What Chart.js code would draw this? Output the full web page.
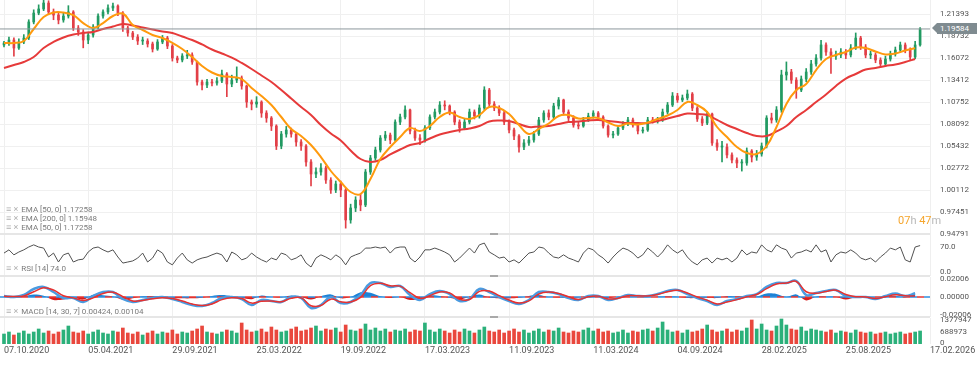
<!DOCTYPE html>
<html>
<head>
<meta charset="utf-8">
<title>EUR/USD daily</title>
<script src="https://cdn.jsdelivr.net/npm/chart.js@4.4.1/dist/chart.umd.min.js"></script>
<style>
  html, body { margin: 0; padding: 0; background: #fff; }
  #wrap { position: relative; width: 977px; height: 368px; overflow: hidden; font-family: Roboto, Arial, sans-serif; }
  #wrap canvas { position: absolute; left: 0; }
  .tag { position: absolute; left: 6px; height: 10px; line-height: 10px; font-size: 8px; color: #7b7b7b; white-space: nowrap; }
  .tag b { font-weight: normal; color: #b0b0b0; margin-right: 1px; font-size: 9px; }
  .sep { position: absolute; left: 0; width: 930px; height: 2px; background: #e6e6e6; }
  .grip { position: absolute; left: 490px; width: 8px; height: 2px; background: #a9a9a9; }
  #last { position: absolute; left: 937px; top: 23px; width: 40px; height: 11px; line-height: 11px; background: #7f8b90; color: #fff; font-size: 8px; padding-left: 3px; box-sizing: border-box; }
  #last::before { content: ''; position: absolute; left: -5px; top: 0; border-style: solid; border-width: 5.5px 5px 5.5px 0; border-color: transparent #7f8b90 transparent transparent; }
  #timer { position: absolute; left: 898px; top: 214px; font-size: 11px; line-height: 13px; color: #f5a52c; white-space: nowrap; }
  #timer span { color: #b8b8b8; }
</style>
</head>
<body>
<div id="wrap">
  <canvas id="cPrice" width="977" height="240" style="top:0"></canvas>
  <canvas id="cRsi" width="977" height="40" style="top:236px"></canvas>
  <canvas id="cMacd" width="977" height="44" style="top:273px"></canvas>
  <canvas id="cVol" width="977" height="54" style="top:314px"></canvas>

  <div class="sep" style="top:233px"></div>
  <div class="sep" style="top:275px"></div>
  <div class="sep" style="top:316px"></div>
  <div class="grip" style="top:233px"></div>
  <div class="grip" style="top:275px"></div>
  <div class="grip" style="top:316px"></div>

  <div class="tag" style="top:204px"><b>≡ ×</b> EMA [50, 0] 1.17258</div>
  <div class="tag" style="top:213px"><b>≡ ×</b> EMA [200, 0] 1.15948</div>
  <div class="tag" style="top:222px"><b>≡ ×</b> EMA [50, 0] 1.17258</div>
  <div class="tag" style="top:263px"><b>≡ ×</b> RSI [14] 74.0</div>
  <div class="tag" style="top:306px"><b>≡ ×</b> MACD [14, 30, 7] 0.00424, 0.00104</div>

  <div id="timer">07<span>h</span> 47<span>m</span></div>
  <div id="last">1.19584</div>
</div>
<script>
// bar index axis: one candle per slot, a date label every 17 slots
const X_MIN = -0.808, X_MAX = 187, TICK_EVERY = 17, LINE_STEP = 2;
const PRICE_MIN = 0.94551, PRICE_MAX = 1.23086;

const dateLabels = ['07.10.2020', '05.04.2021', '29.09.2021', '25.03.2022', '19.09.2022', '17.03.2023',
  '11.09.2023', '11.03.2024', '04.09.2024', '28.02.2025', '25.08.2025', '17.02.2026'];
const priceTicks = [1.21393, 1.18732, 1.16072, 1.13412, 1.10752, 1.08092, 1.05432, 1.02772, 1.00112, 0.97451, 0.94791];
const rsiTicks = [0, 70];
const macdTicks = [-0.02006, 0, 0.02006];
const volumeTicks = [0, 688973, 1377947];

const firstOpen = 1.1765;
const close = [
  1.1789,1.1825,1.1728,1.1801,1.1849,1.2043,1.2151,1.2200,1.2272,1.2164,
  1.2127,1.2067,1.2115,1.2164,1.1970,1.1922,1.1825,1.1885,1.1982,1.2115,
  1.2164,1.2212,1.2236,1.2151,1.1970,1.1910,1.1861,1.1813,1.1813,1.1777,
  1.1716,1.1801,1.1849,1.1752,1.1607,1.1583,1.1632,1.1644,1.1559,1.1317,
  1.1281,1.1317,1.1305,1.1329,1.1414,1.1293,1.1341,1.1366,1.1269,1.1075,
  1.1051,1.1075,1.0942,1.0882,1.0785,1.0543,1.0688,1.0737,1.0688,1.0592,
  1.0543,1.0350,1.0205,1.0229,1.0277,1.0132,1.0011,1.0084,1.0011,0.9649,
  0.9794,0.9890,0.9830,1.0229,1.0398,1.0495,1.0640,1.0676,1.0616,1.0833,
  1.0894,1.0979,1.0725,1.0640,1.0616,1.0761,1.0894,1.0954,1.1039,1.1027,
  1.0954,1.0833,1.0761,1.0833,1.0954,1.0906,1.1003,1.1220,1.1051,1.1003,
  1.0942,1.0833,1.0737,1.0664,1.0531,1.0580,1.0616,1.0688,1.0858,1.0942,
  1.0894,1.1027,1.1100,1.0954,1.0882,1.0797,1.0785,1.0858,1.0906,1.0942,
  1.0894,1.0785,1.0676,1.0688,1.0761,1.0809,1.0858,1.0797,1.0725,1.0737,
  1.0858,1.0846,1.0858,1.0954,1.1039,1.1148,1.1100,1.1124,1.1172,1.1003,
  1.0870,1.0821,1.0930,1.0580,1.0531,1.0531,1.0435,1.0374,1.0338,1.0338,
  1.0483,1.0410,1.0447,1.0543,1.0882,1.0858,1.0979,1.1402,1.1438,1.1341,
  1.1220,1.1353,1.1438,1.1535,1.1607,1.1765,1.1680,1.1632,1.1644,1.1680,
  1.1644,1.1728,1.1849,1.1740,1.1644,1.1644,1.1583,1.1535,1.1595,1.1656,
  1.1704,1.1765,1.1704,1.1619,1.1765,1.19584
];
const high = [
  1.181,1.186,1.185,1.184,1.189,1.207,1.219,1.225,1.234,1.230,
  1.220,1.216,1.215,1.224,1.218,1.200,1.195,1.192,1.201,1.214,
  1.219,1.225,1.227,1.225,1.217,1.199,1.193,1.189,1.186,1.184,
  1.180,1.183,1.188,1.187,1.177,1.163,1.166,1.170,1.167,1.157,
  1.134,1.135,1.135,1.137,1.146,1.143,1.140,1.150,1.139,1.128,
  1.110,1.114,1.109,1.097,1.090,1.080,1.072,1.078,1.076,1.071,
  1.062,1.056,1.038,1.028,1.033,1.030,1.016,1.012,1.012,1.003,
  0.984,0.993,0.996,1.026,1.043,1.053,1.067,1.072,1.070,1.086,
  1.093,1.103,1.099,1.076,1.068,1.079,1.092,1.099,1.108,1.109,
  1.104,1.097,1.086,1.087,1.099,1.098,1.104,1.126,1.124,1.108,
  1.103,1.097,1.086,1.076,1.068,1.062,1.066,1.072,1.089,1.097,
  1.098,1.106,1.113,1.111,1.098,1.091,1.083,1.089,1.094,1.097,
  1.096,1.091,1.080,1.072,1.079,1.084,1.089,1.088,1.082,1.077,
  1.089,1.089,1.089,1.099,1.107,1.119,1.118,1.116,1.122,1.119,
  1.102,1.090,1.096,1.094,1.062,1.060,1.057,1.046,1.040,1.038,
  1.052,1.050,1.049,1.058,1.091,1.094,1.102,1.146,1.156,1.147,
  1.137,1.139,1.148,1.158,1.165,1.182,1.179,1.172,1.169,1.172,
  1.171,1.177,1.191,1.187,1.177,1.169,1.167,1.161,1.163,1.169,
  1.174,1.180,1.179,1.173,1.181,1.1975
];
const low = [
  1.174,1.176,1.163,1.171,1.178,1.183,1.202,1.213,1.218,1.213,
  1.207,1.202,1.204,1.209,1.194,1.188,1.173,1.178,1.186,1.196,
  1.209,1.214,1.218,1.212,1.193,1.187,1.183,1.177,1.177,1.174,
  1.168,1.170,1.178,1.172,1.157,1.155,1.156,1.160,1.153,1.128,
  1.122,1.125,1.127,1.128,1.131,1.114,1.126,1.131,1.123,1.101,
  1.098,1.101,1.089,1.083,1.073,1.050,1.051,1.065,1.065,1.054,
  1.049,1.030,1.006,1.016,1.019,1.009,0.997,0.998,0.993,0.955,
  0.961,0.975,0.976,0.981,1.020,1.037,1.047,1.061,1.057,1.060,
  1.080,1.087,1.069,1.061,1.056,1.059,1.074,1.087,1.093,1.098,
  1.092,1.080,1.071,1.074,1.081,1.087,1.088,1.098,1.101,1.097,
  1.091,1.080,1.070,1.062,1.047,1.050,1.055,1.059,1.067,1.083,
  1.086,1.087,1.099,1.092,1.085,1.077,1.075,1.077,1.084,1.088,
  1.086,1.076,1.065,1.064,1.067,1.074,1.079,1.077,1.069,1.070,
  1.072,1.082,1.082,1.084,1.093,1.102,1.107,1.108,1.110,1.097,
  1.084,1.079,1.080,1.055,1.049,1.035,1.040,1.034,1.028,1.024,
  1.031,1.035,1.037,1.042,1.052,1.082,1.083,1.095,1.134,1.130,
  1.112,1.120,1.132,1.141,1.151,1.158,1.164,1.142,1.159,1.161,
  1.160,1.162,1.171,1.171,1.161,1.160,1.155,1.150,1.151,1.157,
  1.163,1.168,1.167,1.158,1.160,1.175
];
// EMA lines, one point every 2 candles
const ema50 = [
  1.1789,1.1789,1.1813,1.1958,1.2103,1.2157,1.2157,1.2127,1.2030,1.1970,
  1.2030,1.2115,1.2145,1.2006,1.1946,1.1885,1.1849,1.1789,1.1716,1.1619,
  1.1511,1.1432,1.1390,1.1378,1.1353,1.1245,1.1148,1.1039,1.0894,1.0749,
  1.0664,1.0555,1.0410,1.0241,1.0108,0.9987,0.9963,1.0144,1.0386,1.0531,
  1.0652,1.0761,1.0725,1.0785,1.0894,1.0948,1.0894,1.0870,1.0918,1.1015,
  1.1003,1.0930,1.0797,1.0688,1.0749,1.0815,1.0906,1.0918,1.0876,1.0882,
  1.0882,1.0827,1.0785,1.0815,1.0803,1.0827,1.0870,1.0912,1.0979,1.1075,
  1.1039,1.0954,1.0773,1.0652,1.0531,1.0459,1.0447,1.0543,1.0773,1.1051,
  1.1220,1.1293,1.1462,1.1595,1.1644,1.1680,1.1734,1.1728,1.1686,1.1650,
  1.1662,1.1698,1.17258
];
const ema200 = [
  1.1487,1.1523,1.1559,1.1619,1.1728,1.1801,1.1855,1.1891,1.1910,1.1922,
  1.1958,1.1988,1.2018,1.2000,1.1976,1.1952,1.1928,1.1910,1.1867,1.1825,
  1.1771,1.1710,1.1662,1.1613,1.1547,1.1474,1.1396,1.1317,1.1220,1.1118,
  1.1015,1.0918,1.0797,1.0694,1.0610,1.0489,1.0386,1.0350,1.0374,1.0441,
  1.0501,1.0555,1.0580,1.0634,1.0682,1.0713,1.0737,1.0755,1.0785,1.0840,
  1.0852,1.0846,1.0809,1.0773,1.0779,1.0785,1.0809,1.0833,1.0840,1.0852,
  1.0858,1.0846,1.0833,1.0821,1.0821,1.0821,1.0846,1.0876,1.0906,1.0936,
  1.0930,1.0918,1.0858,1.0797,1.0749,1.0700,1.0664,1.0664,1.0719,1.0785,
  1.0894,1.0979,1.1075,1.1166,1.1269,1.1359,1.1414,1.1468,1.1487,1.1511,
  1.1529,1.1559,1.15948
];
const rsi = [
  53,62,48,56,62,70,76,70,67,42, 53,28,48,53,28,34,36,56,67,70,
  62,56,62,42,25,28,31,39,53,28, 39,62,53,28,20,39,53,34,25,34,
  39,42,48,53,48,28,56,48,34,39, 53,42,34,28,39,34,53,48,34,39,
  48,25,14,39,48,42,34,48,39,20, 42,48,53,67,67,70,67,70,53,67,
  70,70,39,28,42,62,62,67,62,56, 48,28,39,53,67,53,76,81,56,48,
  39,42,28,34,25,39,53,56,70,67, 53,42,39,48,39,34,28,53,67,62,
  48,39,25,42,56,67,62,53,39,48, 67,56,42,56,76,62,53,62,42,28,
  20,34,39,25,39,34,39,28,39,62, 48,56,53,76,62,56,76,67,62,39,
  53,56,62,56,76,56,62,28,48,56, 53,62,53,39,34,39,28,42,53,67,
  62,70,34,28,70,74
];
// MACD, signal and histogram, one point every 2 candles
const macd = [
  0.0011,0.0000,0.0023,0.0092,0.0115,0.0057,-0.0011,-0.0011,-0.0057,0.0011,
  0.0057,0.0057,-0.0023,-0.0057,-0.0034,-0.0011,0.0000,-0.0023,-0.0057,-0.0092,
  -0.0103,-0.0069,-0.0011,0.0000,-0.0023,-0.0092,-0.0034,-0.0046,-0.0057,0.0000,
  -0.0011,-0.0126,-0.0092,0.0000,-0.0069,-0.0057,0.0023,0.0160,0.0160,0.0115,
  0.0126,0.0023,-0.0034,0.0034,0.0069,0.0034,-0.0046,-0.0023,0.0092,0.0057,
  0.0000,-0.0046,-0.0080,-0.0034,0.0057,0.0057,0.0034,-0.0011,-0.0034,0.0011,
  0.0011,-0.0034,-0.0011,0.0023,0.0011,0.0011,0.0034,0.0069,0.0080,0.0034,
  -0.0011,-0.0046,-0.0092,-0.0046,-0.0023,0.0011,0.0034,0.0115,0.0160,0.0160,
  0.0183,0.0023,0.0046,0.0069,0.0080,0.0011,0.0000,0.0000,-0.0023,0.0011,
  0.0040,0.0011,0.00424
];
const signal = [
  0.0008,0.0005,0.0012,0.0060,0.0105,0.0080,0.0015,-0.0010,-0.0040,-0.0010,
  0.0040,0.0055,0.0005,-0.0045,-0.0040,-0.0020,-0.0008,-0.0018,-0.0045,-0.0080,
  -0.0098,-0.0080,-0.0030,-0.0008,-0.0018,-0.0070,-0.0050,-0.0045,-0.0055,-0.0015,
  -0.0010,-0.0100,-0.0098,-0.0025,-0.0055,-0.0058,-0.0005,0.0130,0.0158,0.0128,
  0.0125,0.0050,-0.0015,0.0015,0.0058,0.0045,-0.0025,-0.0028,0.0065,0.0068,
  0.0015,-0.0035,-0.0070,-0.0045,0.0035,0.0057,0.0040,0.0002,-0.0028,0.0002,
  0.0010,-0.0022,-0.0015,0.0015,0.0013,0.0011,0.0028,0.0060,0.0077,0.0045,
  0.0000,-0.0036,-0.0080,-0.0058,-0.0030,0.0002,0.0028,0.0095,0.0148,0.0160,
  0.0178,0.0060,0.0042,0.0063,0.0078,0.0028,0.0004,0.0000,-0.0018,0.0003,
  0.0025,0.0015,0.00104
];
const hist = [
  0.0005,-0.0005,0.0010,0.0030,0.0015,-0.0035,-0.0030,-0.0010,-0.0030,0.0025,
  0.0020,0.0005,-0.0030,-0.0015,0.0008,0.0012,0.0008,-0.0008,-0.0015,-0.0015,
  -0.0008,0.0012,0.0022,0.0010,-0.0008,-0.0025,0.0018,0.0000,-0.0005,0.0018,
  0.0000,-0.0030,0.0008,0.0030,-0.0015,0.0000,0.0055,0.0050,0.0008,-0.0012,
  0.0000,-0.0035,-0.0022,0.0018,0.0012,-0.0010,-0.0030,0.0002,0.0028,-0.0005,
  -0.0015,-0.0018,-0.0010,0.0012,0.0022,0.0000,-0.0006,-0.0012,-0.0006,0.0008,
  0.0002,-0.0012,0.0004,0.0008,0.0000,0.0000,0.0006,0.0010,0.0004,-0.0012,
  -0.0012,-0.0010,-0.0012,0.0012,0.0008,0.0010,0.0006,0.0040,0.0035,0.0000,
  0.0030,-0.0040,0.0004,0.0006,0.0002,-0.0030,-0.0004,0.0000,-0.0005,0.0008,
  0.0015,-0.0004,0.0045
];
// volume in thousands
const volume = [
  599,719,539,659,779,599,719,899,659,779, 599,719,839,1078,719,659,779,599,719,839,
  659,599,779,719,958,659,599,719,539,659, 779,599,719,659,839,599,719,659,779,899,
  1078,719,659,599,719,839,779,659,1258,839, 719,779,899,719,1018,839,719,779,899,1018,
  779,839,958,1078,779,899,839,958,719,1138, 839,779,899,1198,839,958,779,899,719,839,
  779,899,719,839,779,1258,839,719,899,779, 659,839,719,899,779,659,839,1018,779,719,
  839,659,779,899,719,839,659,779,899,719, 839,779,958,719,659,779,719,839,958,779,
  899,719,779,659,719,839,659,779,719,839, 899,779,958,1318,839,719,779,659,839,719,
  779,899,1138,839,719,779,899,719,839,779, 958,1438,899,1198,839,779,1078,1498,1138,899,
  839,1018,779,899,839,779,719,839,659,779, 719,659,839,719,659,719,599,659,719,599,
  659,719,599,659,719,779
];

const UP = '#229a62', DOWN = '#e23f47';
const VOL_UP = '#2bb07a', VOL_DOWN = '#e9473d';
const open = [firstOpen].concat(close.slice(0, -1));
const rising = close.map((c, i) => c >= open[i]);
const lastPrice = close[close.length - 1];
const lineAt = (arr, step) => arr.map((v, k) => ({ x: k * step, y: v }));
const flat = v => [{ x: X_MIN, y: v }, { x: X_MAX, y: v }];
const FONT = { family: 'Roboto', size: 8 };

function xAxis(showDates) {
  return {
    type: 'linear', min: X_MIN, max: X_MAX, offset: false,
    grid: { color: '#efefef', offset: false, drawTicks: false },
    border: { display: false },
    ticks: {
      display: showDates, align: 'start', padding: 1, maxRotation: 0, minRotation: 0, autoSkip: false,
      color: '#555', font: { family: 'Roboto', size: 9 },
      callback: (v, i) => dateLabels[i]
    },
    afterBuildTicks: s => { s.ticks = dateLabels.map((d, k) => ({ value: k * TICK_EVERY })); },
    afterFit: s => { s.height = showDates ? 24 : 0; s.paddingLeft = 0; s.paddingRight = 0; }
  };
}
function yAxis(min, max, ticks, fmt, grid, labelOffset) {
  return {
    position: 'right', min, max,
    grid: { display: grid, color: '#f0f0f0', drawTicks: false },
    border: { display: false },
    ticks: { padding: 10, color: '#555', font: FONT, autoSkip: false, labelOffset: labelOffset || 0, callback: fmt },
    afterBuildTicks: s => { s.ticks = ticks.map(v => ({ value: v })); },
    afterFit: s => { s.width = 47; s.paddingTop = 0; s.paddingBottom = 0; }
  };
}
function build(id, datasets, y, showDates, pad) {
  return new Chart(document.getElementById(id), {
    type: 'bar',
    data: { datasets },
    options: {
      responsive: false, animation: false, events: [],
      layout: { padding: pad || 0 },
      plugins: { legend: { display: false }, tooltip: { enabled: false } },
      scales: { x: xAxis(showDates), y }
    }
  });
}

build('cPrice', [
  { type: 'line', data: flat(lastPrice), borderColor: '#8c979c', borderWidth: 1, pointRadius: 0, order: 0 },
  { type: 'line', data: lineAt(ema50, LINE_STEP), borderColor: '#ff9a0d', borderWidth: 2, pointRadius: 0, tension: 0.4, order: 1 },
  { type: 'line', data: lineAt(ema200, LINE_STEP), borderColor: '#e63a3a', borderWidth: 2, pointRadius: 0, tension: 0.4, order: 2 },
  { data: close.map((c, i) => ({ x: i, y: [open[i], c] })), backgroundColor: rising.map(r => r ? UP : DOWN),
    barThickness: 2, minBarLength: 1, grouped: false, order: 3 },
  { data: close.map((c, i) => ({ x: i, y: [low[i], high[i]] })), backgroundColor: rising.map(r => r ? UP : DOWN),
    barThickness: 1, grouped: false, order: 4 }
], yAxis(PRICE_MIN, PRICE_MAX, priceTicks, v => v.toFixed(5), true), false, { bottom: 4 });

build('cRsi', [
  { type: 'line', data: rsi.map((v, i) => ({ x: i, y: v })), borderColor: '#505050', borderWidth: 1, pointRadius: 0 }
], yAxis(-11.2, 100.8, rsiTicks, v => v.toFixed(1), false), false);

build('cMacd', [
  { type: 'line', data: lineAt(signal, LINE_STEP), borderColor: '#e8312f', borderWidth: 1.5, pointRadius: 0, tension: 0.4, order: 0 },
  { type: 'line', data: lineAt(macd, LINE_STEP), borderColor: '#4a9be0', borderWidth: 2.5, pointRadius: 0, tension: 0.4, order: 1 },
  { type: 'line', data: flat(0), borderColor: '#2f8fe0', borderWidth: 1.5, borderDash: [7, 7], pointRadius: 0, order: 2 },
  { type: 'line', data: flat(0), borderColor: '#e53935', borderWidth: 1.5, borderDash: [7, 7], borderDashOffset: 7, pointRadius: 0, order: 2 },
  { type: 'line', data: lineAt(hist, LINE_STEP), borderWidth: 0, borderColor: 'rgba(0,0,0,0)', pointRadius: 0, tension: 0.3,
    fill: { target: { value: 0 }, above: '#1c82d6', below: '#d81e1e' }, order: 3 }
], yAxis(-0.02292, 0.02292, macdTicks, v => v.toFixed(5), false), false, { top: 4 });

build('cVol', [
  { data: volume.map((v, i) => ({ x: i, y: v * 1000 })), backgroundColor: rising.map(r => r ? VOL_UP : VOL_DOWN), barThickness: 3 }
], yAxis(0, 1557700, volumeTicks, v => String(v), false, -1), true, { top: 4 });
</script>
</body>
</html>
